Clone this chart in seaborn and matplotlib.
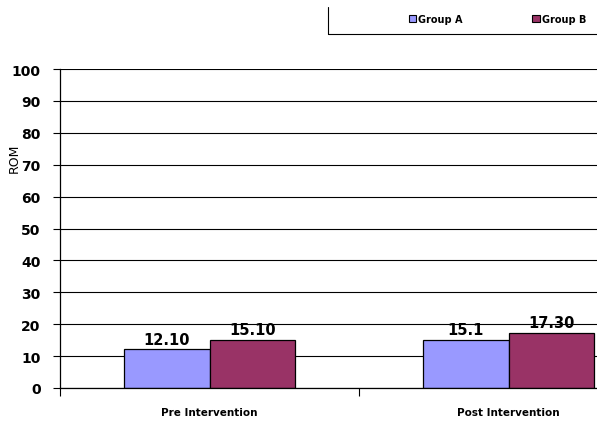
import matplotlib
matplotlib.use("Agg")
import matplotlib.pyplot as plt
from matplotlib.lines import Line2D
from matplotlib.patches import Patch
import seaborn as sns
import pandas as pd

categories = ["Pre Intervention", "Post Intervention"]
groups = ["Group A", "Group B"]
group_a = [12.10, 15.1]
group_b = [15.10, 17.30]
label_a = ["12.10", "15.1"]
label_b = ["15.10", "17.30"]
y_ticks = list(range(0, 101, 10))
colors = {"Group A": "#9999FF", "Group B": "#993366"}

df = pd.DataFrame({
    "Phase": categories * 2,
    "Group": [groups[0]] * 2 + [groups[1]] * 2,
    "ROM": group_a + group_b,
})

sns.set_style("white")
plt.rcParams["font.family"] = ["DejaVu Sans"]
plt.rcParams["text.color"] = "black"
plt.rcParams["xtick.color"] = "black"
plt.rcParams["ytick.color"] = "black"
plt.rcParams["axes.labelcolor"] = "black"

fig = plt.figure(figsize=(5.97, 4.27), dpi=100)
ax = fig.add_axes([60 / 597, 1 - 389 / 427, 598 / 597, (389 - 70) / 427])

sns.barplot(data=df, x="Phase", y="ROM", hue="Group", order=categories,
            hue_order=groups, palette=colors, width=0.575, gap=0,
            edgecolor="black", linewidth=0.9, saturation=1, ax=ax, legend=False)

ax.set_xlim(-0.5, 1.5)
ax.set_ylim(0, 100)
ax.set_yticks(y_ticks)
ax.set_yticklabels([str(t) for t in y_ticks], fontsize=10, fontweight="bold",
                   color="black")
ax.yaxis.grid(True, color="black", linewidth=0.8)
ax.set_axisbelow(True)
ax.tick_params(axis="y", direction="out", length=5, width=0.8, pad=9, left=True,
               colors="black")

ax.set_xticks([0, 1])
ax.set_xticklabels(categories, fontsize=7.5, fontweight="bold", color="black")
ax.tick_params(axis="x", length=0, pad=14)
ax.set_xticks([-0.5, 0.5, 1.5], minor=True)
ax.tick_params(axis="x", which="minor", direction="out", length=6, width=0.8,
               bottom=True, colors="black")

ax.set_xlabel("")
ax.set_ylabel("")
for side in ["top", "right"]:
    ax.spines[side].set_visible(False)
for side in ["left", "bottom"]:
    ax.spines[side].set_color("black")
    ax.spines[side].set_linewidth(0.9)

for cont, labs in zip(ax.containers, [label_a, label_b]):
    ax.bar_label(cont, labels=labs, padding=2, fontsize=10.5, fontweight="bold",
                 color="black")

fig.text(14 / 597, 1 - 158 / 427, "ROM", rotation=90, ha="center", va="center",
         fontsize=9, color="black")

# legend frame (open at the top and right edges)
fig.add_artist(Line2D([328 / 597, 328 / 597], [1 - 8 / 427, 1 - 35 / 427],
                      transform=fig.transFigure, color="black", lw=0.8))
fig.add_artist(Line2D([328 / 597, 1.0], [1 - 35 / 427, 1 - 35 / 427],
                      transform=fig.transFigure, color="black", lw=0.8))
handles = [Patch(facecolor=colors[g], edgecolor="black", linewidth=0.8) for g in groups]
leg = fig.legend(handles, groups, loc="center left",
                 bbox_to_anchor=(400 / 597, 1 - 20 / 427), ncol=2, frameon=False,
                 prop={"size": 7, "weight": "bold"}, handlelength=0.75,
                 handleheight=0.75, handletextpad=0.2, columnspacing=7.2)
for t in leg.get_texts():
    t.set_color("black")

fig.savefig("out.png", dpi=100)
